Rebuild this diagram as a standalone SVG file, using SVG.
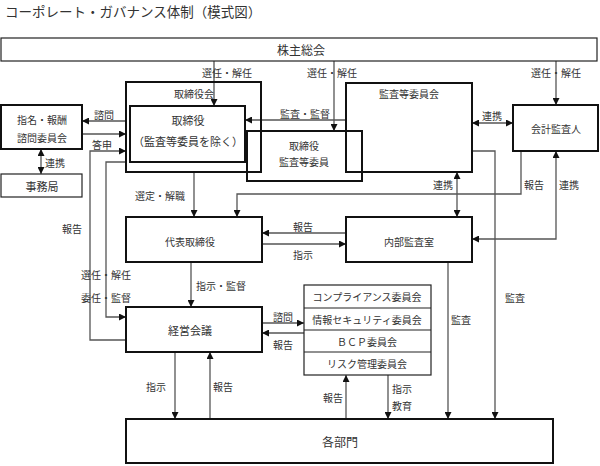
<svg xmlns="http://www.w3.org/2000/svg" width="600" height="466" viewBox="0 0 600 466">
<style>
text{font-family:"Noto Sans CJK JP","Noto Sans",sans-serif;fill:#333;font-size:10px;text-anchor:middle;dominant-baseline:central}
.title{font-size:13.5px;text-anchor:start}
.box{fill:none;stroke:#111;stroke-width:2}
.thin{fill:none;stroke:#222;stroke-width:1.2}
.c{fill:none;stroke:#555;stroke-width:1.3}
.a{marker-end:url(#ah)}
.b{marker-start:url(#ah);marker-end:url(#ah)}
.n11{font-size:11px}
.n12{font-size:12px}
</style>
<defs>
<marker id="ah" viewBox="0 0 8 8" markerUnits="userSpaceOnUse" markerWidth="7" markerHeight="7" refX="8" refY="4" orient="auto-start-reverse">
<path d="M0,0 L8,4 L0,8 z" fill="#111"/>
</marker>
</defs>
<rect width="600" height="466" fill="#fff"/>
<text class="title" x="5" y="10.5">コーポレート・ガバナンス体制（模式図）</text>

<g id="connectors">
<path class="c a" d="M214,61 V106"/>
<path class="c a" d="M334,61 V131"/>
<path class="c a" d="M556,61 V105"/>
<path class="c a" d="M346,120 H245"/>
<path class="c b" d="M472,123 H513"/>
<path class="c a" d="M472,151 H495 V419"/>
<path class="c b" d="M457,172 V217"/>
<path class="c a" d="M521,151 V194 H237 V217"/>
<path class="c b" d="M556,151 V239 H472"/>
<path class="c a" d="M194,172 V217"/>
<path class="c a" d="M346,233 H262"/>
<path class="c a" d="M262,244 H346"/>
<path class="c a" d="M191,262 V307"/>
<path class="c a" d="M126,121 H82"/>
<path class="c a" d="M82,134 H126"/>
<path class="c b" d="M41,149 V174"/>
<path class="c a" d="M126,340 H90 V151 H126"/>
<path class="c a" d="M126,162 H106 V317 H126"/>
<path class="c a" d="M262,323 H304"/>
<path class="c a" d="M304,333 H262"/>
<path class="c a" d="M448,262 V419"/>
<path class="c a" d="M175,352 V419"/>
<path class="c a" d="M210,419 V352"/>
<path class="c a" d="M346,419 V375"/>
<path class="c a" d="M388,375 V419"/>
<text x="227" y="72">選任・解任</text>
<text x="332" y="72">選任・解任</text>
<text x="556" y="72">選任・解任</text>
<text x="305" y="113">監査・監督</text>
<text x="492" y="115">連携</text>
<text x="104" y="114">諮問</text>
<text x="102" y="144">答申</text>
<text x="55" y="162">連携</text>
<text x="160" y="195">選定・解職</text>
<text x="443" y="184">連携</text>
<text x="534" y="184">報告</text>
<text x="569" y="184">連携</text>
<text x="303" y="226">報告</text>
<text x="303" y="254">指示</text>
<text x="72" y="228">報告</text>
<text x="106" y="274">選任・解任</text>
<text x="106" y="297">委任・監督</text>
<text x="221" y="285">指示・監督</text>
<text x="283" y="316">諮問</text>
<text x="283" y="344">報告</text>
<text x="515" y="297">監査</text>
<text x="461" y="319">監査</text>
<text x="156" y="386">指示</text>
<text x="223" y="386">報告</text>
<text x="333" y="397">報告</text>
<text x="402" y="388">指示</text>
<text x="402" y="405">教育</text>
</g>

<g id="shareholders">
<rect class="thin" x="1" y="38" width="596" height="23"/>
<text class="n12" x="301" y="49.5">株主総会</text>
</g>
<g id="board">
<rect class="box" x="126" y="82" width="135" height="90"/>
<text x="194" y="93">取締役会</text>
</g>
<g id="directors">
<rect class="box" x="130" y="106" width="115" height="56"/>
<text class="n11" x="188" y="120">取締役</text>
<text class="n11" x="188" y="141">（監査等委員を除く）</text>
</g>
<g id="audit-directors">
<rect class="box" x="247" y="131" width="115" height="50"/>
<text x="304" y="145">取締役</text>
<text x="304" y="161">監査等委員</text>
</g>
<g id="audit-committee">
<rect class="box" x="346" y="83" width="126" height="89"/>
<text x="409" y="93">監査等委員会</text>
</g>
<g id="accounting-auditor">
<rect class="box" x="513" y="105" width="85" height="46"/>
<text x="556" y="128">会計監査人</text>
</g>
<g id="nomination-committee">
<rect class="box" x="1" y="105" width="81" height="44"/>
<text x="42" y="119">指名・報酬</text>
<text x="42" y="137">諮問委員会</text>
</g>
<g id="secretariat">
<rect class="thin" x="1" y="174" width="81" height="23"/>
<text class="n11" x="42" y="185.5">事務局</text>
</g>
<g id="ceo">
<rect class="box" x="126" y="217" width="136" height="45"/>
<text x="190" y="241">代表取締役</text>
</g>
<g id="internal-audit">
<rect class="box" x="346" y="217" width="126" height="45"/>
<text x="409" y="241">内部監査室</text>
</g>
<g id="management-meeting">
<rect class="box" x="126" y="307" width="136" height="45"/>
<text class="n11" x="190" y="329.5">経営会議</text>
</g>
<g id="committees">
<rect class="thin" x="304" y="285" width="127" height="90"/>
<path class="thin" d="M304,308 H431 M304,330 H431 M304,352 H431"/>
<text x="367" y="296.5">コンプライアンス委員会</text>
<text x="367" y="319">情報セキュリティ委員会</text>
<text x="367" y="341">ＢＣＰ委員会</text>
<text x="367" y="363.5">リスク管理委員会</text>
</g>
<g id="departments">
<rect class="box" x="126" y="419" width="427" height="44"/>
<text class="n12" x="340" y="441">各部門</text>
</g>
</svg>
